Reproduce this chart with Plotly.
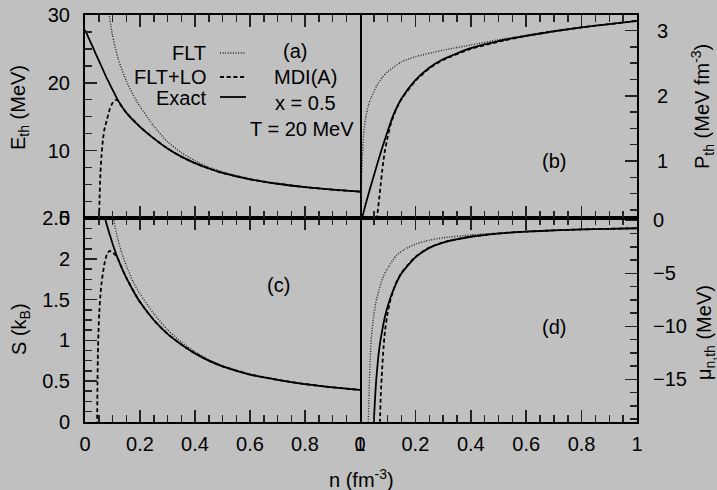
import plotly.graph_objects as go

# ---------------- data ----------------
# Panel (a): thermal energy E_th (MeV)
n_a_exact = [0.0, 0.02, 0.04, 0.06, 0.08, 0.1, 0.12, 0.15, 0.2, 0.25, 0.3, 0.35, 0.4, 0.45, 0.5, 0.6, 0.7, 0.8, 0.9, 1.0]
E_exact = [27.8, 26.0, 24.2, 22.4, 20.6, 19.0, 17.4, 15.6, 13.5, 11.8, 10.3, 9.1, 8.15, 7.35, 6.7, 5.75, 5.1, 4.6, 4.22, 3.93]
n_a_flt = [0.085, 0.088, 0.1, 0.12, 0.15, 0.175, 0.2, 0.25, 0.3, 0.35, 0.4, 0.45, 0.5, 0.6, 0.7, 0.8, 0.9, 1.0]
E_flt = [31.0, 30.0, 27.0, 23.6, 20.3, 18.2, 16.5, 13.6, 11.3, 9.7, 8.5, 7.55, 6.85, 5.85, 5.15, 4.63, 4.24, 3.95]
n_a_lo = [0.051, 0.053, 0.056, 0.06, 0.065, 0.07, 0.08, 0.09, 0.1, 0.11, 0.12, 0.13, 0.15, 0.2, 0.25, 0.3, 0.35, 0.4, 0.45, 0.5, 0.6, 0.7, 0.8, 0.9, 1.0]
E_lo = [-1.0, 3.0, 6.5, 9.3, 11.5, 13.0, 14.6, 16.1, 17.0, 17.45, 17.35, 16.7, 15.6, 13.5, 11.8, 10.3, 9.1, 8.15, 7.35, 6.7, 5.75, 5.1, 4.6, 4.22, 3.93]

# Panel (b): thermal pressure P_th (MeV fm^-3)
n_b_exact = [0.005, 0.02, 0.04, 0.06, 0.08, 0.1, 0.12, 0.15, 0.2, 0.25, 0.3, 0.4, 0.5, 0.6, 0.7, 0.8, 0.9, 1.0]
P_exact = [0.08, 0.33, 0.63, 0.92, 1.2, 1.46, 1.7, 1.96, 2.24, 2.43, 2.56, 2.73, 2.84, 2.92, 2.99, 3.05, 3.1, 3.15]
n_b_flt = [0.002, 0.004, 0.006, 0.009, 0.013, 0.02, 0.03, 0.04, 0.06, 0.08, 0.1, 0.15, 0.2, 0.3, 0.4, 0.5, 0.6, 0.7, 0.8, 0.9, 1.0]
P_flt = [0.0, 0.45, 0.8, 1.1, 1.4, 1.65, 1.85, 1.97, 2.15, 2.28, 2.37, 2.52, 2.6, 2.7, 2.78, 2.86, 2.93, 3.0, 3.05, 3.1, 3.15]
n_b_lo = [0.058, 0.061, 0.066, 0.07, 0.075, 0.08, 0.085, 0.09, 0.1, 0.11, 0.12, 0.13, 0.15, 0.2, 0.25, 0.3, 0.4, 0.5, 0.6, 0.7, 0.8, 0.9, 1.0]
P_lo = [0.0, 0.12, 0.3, 0.45, 0.65, 0.84, 1.02, 1.16, 1.37, 1.55, 1.68, 1.79, 1.95, 2.23, 2.42, 2.55, 2.72, 2.83, 2.92, 2.99, 3.05, 3.1, 3.15]

# Panel (c): entropy per baryon S (k_B)
n_c_exact = [0.068, 0.073, 0.08, 0.09, 0.1, 0.11, 0.12, 0.135, 0.15, 0.175, 0.2, 0.25, 0.3, 0.35, 0.4, 0.45, 0.5, 0.6, 0.7, 0.8, 0.9, 1.0]
S_exact = [2.58, 2.5, 2.41, 2.3, 2.19, 2.09, 2.0, 1.88, 1.77, 1.61, 1.47, 1.25, 1.08, 0.95, 0.84, 0.75, 0.68, 0.58, 0.515, 0.462, 0.423, 0.39]
n_c_flt = [0.098, 0.103, 0.11, 0.12, 0.135, 0.15, 0.175, 0.2, 0.25, 0.3, 0.35, 0.4, 0.45, 0.5, 0.6, 0.7, 0.8, 0.9, 1.0]
S_flt = [2.6, 2.5, 2.38, 2.24, 2.06, 1.92, 1.72, 1.57, 1.33, 1.13, 0.98, 0.86, 0.765, 0.69, 0.585, 0.518, 0.464, 0.425, 0.392]
n_c_lo = [0.044, 0.0455, 0.047, 0.049, 0.052, 0.056, 0.06, 0.07, 0.08, 0.09, 0.1, 0.11, 0.12, 0.135, 0.15, 0.2, 0.25, 0.3, 0.35, 0.4, 0.45, 0.5, 0.6, 0.7, 0.8, 0.9, 1.0]
S_lo = [-0.05, 0.5, 0.85, 1.1, 1.35, 1.55, 1.7, 1.93, 2.06, 2.1, 2.08, 2.05, 2.0, 1.88, 1.77, 1.47, 1.25, 1.08, 0.95, 0.84, 0.75, 0.68, 0.58, 0.515, 0.462, 0.423, 0.39]

# Panel (d): thermal neutron chemical potential mu_n,th (MeV)
n_d_exact = [0.048, 0.05, 0.055, 0.06, 0.07, 0.08, 0.09, 0.1, 0.12, 0.15, 0.2, 0.25, 0.3, 0.4, 0.5, 0.6, 0.7, 0.8, 0.9, 1.0]
mu_exact = [-20.5, -19.0, -16.5, -14.6, -12.0, -10.4, -9.1, -8.1, -6.6, -5.0, -3.5, -2.6, -2.1, -1.55, -1.25, -1.07, -0.95, -0.86, -0.8, -0.75]
n_d_flt = [0.028, 0.03, 0.033, 0.037, 0.041, 0.05, 0.06, 0.084, 0.1, 0.132, 0.16, 0.205, 0.25, 0.3, 0.4, 0.5, 0.6, 0.7, 0.8, 0.9, 1.0]
mu_flt = [-21.0, -19.0, -16.0, -13.0, -11.0, -8.9, -7.4, -5.3, -4.5, -3.3, -2.75, -2.2, -1.88, -1.65, -1.38, -1.2, -1.06, -0.95, -0.86, -0.8, -0.75]
n_d_lo = [0.069, 0.072, 0.075, 0.08, 0.085, 0.09, 0.1, 0.11, 0.12, 0.13, 0.15, 0.2, 0.25, 0.3, 0.4, 0.5, 0.6, 0.7, 0.8, 0.9, 1.0]
mu_lo = [-21.0, -19.0, -16.5, -14.0, -12.0, -10.5, -8.7, -7.5, -6.65, -5.9, -4.95, -3.45, -2.58, -2.08, -1.53, -1.24, -1.06, -0.95, -0.86, -0.8, -0.75]

# Tick labels
x_ticks = [0, 0.2, 0.4, 0.6, 0.8, 1]
x_ticktext = ["0", "0.2", "0.4", "0.6", "0.8", "1"]

# ---------------- figure ----------------
W, H = 717, 490
BG = "#c0c0c0"
FONT = "Liberation Sans, Arial, Helvetica, sans-serif"
FS = 20

def px(x):
    return x / W

def py(y):
    return 1 - y / H

XL = [px(85), px(360)]
XR = [px(360), px(637)]
YT = [py(218.3), py(15)]
YB = [py(421.7), py(218.3)]

fig = go.Figure()

styles = {
    "flt": dict(color="#222222", width=1.4, dash="1px,1.6px"),
    "lo": dict(color="black", width=1.8, dash="4px,2.7px"),
    "exact": dict(color="black", width=1.8),
}

def add(x, y, xa, ya, key):
    fig.add_trace(go.Scatter(x=x, y=y, xaxis=xa, yaxis=ya, mode="lines",
                             line=dict(shape="spline", smoothing=0.6, **styles[key]),
                             showlegend=False, hoverinfo="skip"))

# (a) top-left: x3/y3
add(n_a_flt, E_flt, "x3", "y3", "flt")
add(n_a_lo, E_lo, "x3", "y3", "lo")
add(n_a_exact, E_exact, "x3", "y3", "exact")
# (b) top-right: x4/y4
add(n_b_flt, P_flt, "x4", "y4", "flt")
add(n_b_lo, P_lo, "x4", "y4", "lo")
add(n_b_exact, P_exact, "x4", "y4", "exact")
# (c) bottom-left: x/y
add(n_c_flt, S_flt, "x", "y", "flt")
add(n_c_lo, S_lo, "x", "y", "lo")
add(n_c_exact, S_exact, "x", "y", "exact")
# (d) bottom-right: x2/y2
add(n_d_flt, mu_flt, "x2", "y2", "flt")
add(n_d_lo, mu_lo, "x2", "y2", "lo")
add(n_d_exact, mu_exact, "x2", "y2", "exact")

tickfont = dict(family=FONT, size=FS, color="black")

def xaxis(domain, anchor, labels):
    return dict(domain=domain, anchor=anchor, range=[0, 1], showgrid=False, zeroline=False,
                automargin=False,
                showline=True, linecolor="black", linewidth=2, mirror="ticks",
                ticks="inside", ticklen=12, tickwidth=1.5, tickcolor="#222",
                tickvals=x_ticks, ticktext=x_ticktext, showticklabels=labels,
                tickfont=tickfont, ticklabelstandoff=3,
                minor=dict(dtick=0.05, ticks="inside", ticklen=7, tickwidth=1.5, tickcolor="#222", showgrid=False))

def yaxis(domain, anchor, rng, dtick, minor, side, mirror, standoff):
    return dict(domain=domain, anchor=anchor, range=rng, side=side, showgrid=False, zeroline=False,
                automargin=False,
                showline=True, linecolor="black", linewidth=2, mirror=mirror,
                ticks="inside", ticklen=12, tickwidth=1.5, tickcolor="#222",
                dtick=dtick, tick0=0, tickfont=tickfont, ticklabelstandoff=standoff,
                minor=dict(dtick=minor, ticks="inside", ticklen=7, tickwidth=1.5, tickcolor="#222", showgrid=False))

fig.update_layout(
    template="none",
    width=W, height=H, margin=dict(l=0, r=0, t=0, b=0, autoexpand=False),
    paper_bgcolor=BG, plot_bgcolor=BG,
    font=dict(family=FONT, size=FS, color="black"),
    showlegend=False,
    xaxis=xaxis(XL, "y", True),
    yaxis=yaxis(YB, "x", [0, 2.5], 0.5, 0.125, "left", True, 9),
    xaxis2=xaxis(XR, "y2", True),
    yaxis2=yaxis(YB, "x2", [-19.0, 0.19], 5, 1.25, "right", False, 10),
    xaxis3=xaxis(XL, "y3", False),
    yaxis3=yaxis(YT, "x3", [0, 30], 10, 2.5, "left", True, 9),
    xaxis4=xaxis(XR, "y4", False),
    yaxis4=yaxis(YT, "x4", [0.12, 3.24], 1, 0.25, "right", False, 14),
)

ann = []
def text(t, x, y, xanchor="center", angle=0):
    ann.append(dict(text=t, x=px(x), y=py(y), xref="paper", yref="paper", showarrow=False,
                    xanchor=xanchor, yanchor="middle", textangle=angle,
                    font=dict(family=FONT, size=FS, color="black")))

# legend labels
text("FLT", 208, 53, "right")
text("FLT+LO", 208, 77, "right")
text("Exact", 208, 98, "right")
# panel texts
text("(a)", 295, 51)
text("MDI(A)", 305, 77)
text("x = 0.5", 305, 103)
text("T = 20 MeV", 302, 129)
text("(b)", 554, 161)
text("(c)", 278, 285)
text("(d)", 554, 327)
# axis titles
text("E<sub>th</sub> (MeV)", 20, 108, angle=-90)
text("S (k<sub>B</sub>)", 20, 329, angle=-90)
text("P<sub>th</sub> (MeV fm<sup>-3</sup>)", 703, 107, angle=-90)
text("μ<sub>n,th</sub> (MeV)", 705, 333, angle=-90)
text("n (fm<sup>-3</sup>)", 361, 478)
fig.update_layout(annotations=ann)

# legend line samples
shapes = []
for yy, key in [(53, "flt"), (77, "lo"), (97, "exact")]:
    st = styles[key]
    shapes.append(dict(type="line", xref="paper", yref="paper", x0=px(220), x1=px(246), y0=py(yy), y1=py(yy),
                       line=dict(color=st["color"], width=st["width"], dash=st.get("dash", "solid"))))
fig.update_layout(shapes=shapes)

fig.write_html("out.html", config={"displayModeBar": False, "staticPlot": True},
               post_script="document.body.style.margin='0';document.body.style.overflow='hidden';")
